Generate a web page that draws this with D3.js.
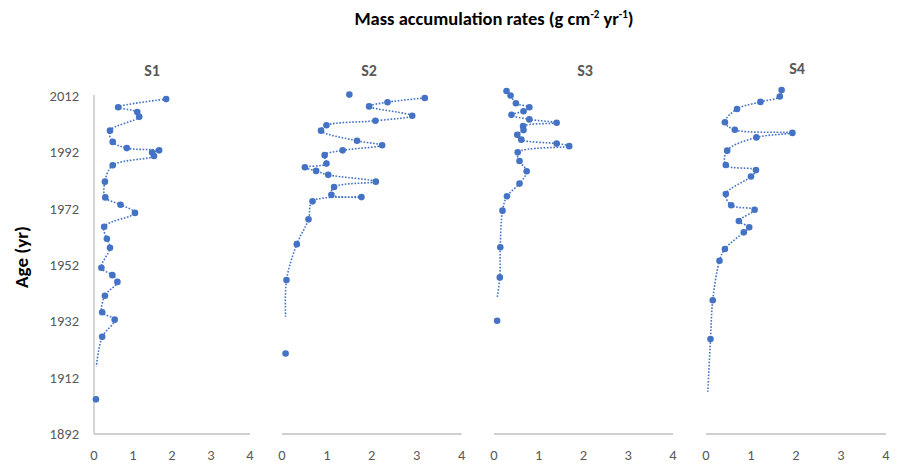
<!DOCTYPE html>
<html><head><meta charset="utf-8">
<script src="https://cdn.jsdelivr.net/npm/d3@7"></script>
<style>
body{margin:0;background:#fff;}
svg{display:block;font-family:Carlito,Lato,"Open Sans",sans-serif;}
</style></head>
<body>
<svg id="chart" width="900" height="464"></svg>
<script>
// ---- data ----
const panelNames = ["S1", "S2", "S3", "S4"];
const yTicks = [1892, 1912, 1932, 1952, 1972, 1992, 2012];
const xTicks = [0, 1, 2, 3, 4];

// markers (year, rate)
const s1Year = [2010.9,2008.0,2006.3,2004.6,1999.7,1995.7,1993.5,1992.7,1991.9,1990.7,1987.4,1981.6,1976.0,1973.4,1970.5,1965.6,1961.3,1958.1,1951.0,1948.4,1946.0,1941.1,1935.2,1932.6,1926.5,1904.3];
const s1Rate = [1.85,0.62,1.11,1.16,0.41,0.48,0.84,1.67,1.49,1.54,0.48,0.28,0.29,0.68,1.05,0.26,0.33,0.41,0.19,0.47,0.60,0.28,0.21,0.53,0.21,0.05];
const s2Year = [2012.5,2011.3,2009.8,2008.3,2005.0,2003.2,2001.6,1999.7,1996.1,1994.5,1992.7,1991.0,1988.0,1986.7,1985.4,1984.0,1981.6,1979.7,1976.9,1976.1,1974.6,1968.2,1959.4,1946.7,1920.6];
const s2Rate = [1.50,3.18,2.35,1.94,2.90,2.08,0.99,0.87,1.67,2.23,1.35,0.95,0.99,0.51,0.76,1.03,2.09,1.16,1.10,1.77,0.68,0.59,0.33,0.10,0.08];
const s3Year = [2013.8,2012.2,2009.4,2008.0,2006.6,2005.3,2003.7,2002.5,2001.3,1999.9,1998.2,1996.5,1995.1,1994.2,1992.0,1988.9,1985.3,1980.9,1976.4,1971.3,1958.3,1947.6,1932.2];
const s3Rate = [0.28,0.37,0.49,0.79,0.66,0.39,0.79,1.40,0.65,0.66,0.52,0.61,1.40,1.68,0.53,0.57,0.73,0.57,0.29,0.19,0.14,0.13,0.07];
const s4Year = [2014.1,2011.8,2009.9,2007.4,2002.7,2000.0,1998.9,1997.3,1992.6,1987.5,1985.7,1983.4,1977.2,1973.2,1971.6,1967.6,1965.4,1963.6,1957.7,1953.5,1939.5,1925.7];
const s4Rate = [1.68,1.64,1.21,0.69,0.42,0.64,1.92,1.12,0.47,0.44,1.11,1.00,0.44,0.56,1.08,0.73,0.96,0.84,0.42,0.30,0.15,0.10];

// dotted trend lines (year, rate)
const s1LineYear = [2010.9,2008.0,2006.3,2004.6,1999.7,1995.7,1993.5,1992.7,1991.9,1990.7,1987.4,1981.6,1976.0,1973.4,1970.5,1965.6,1961.3,1958.1,1951.0,1948.4,1946.0,1941.1,1935.2,1932.6,1926.5,1915.9];
const s1LineRate = [1.85,0.62,1.11,1.16,0.41,0.48,0.84,1.67,1.49,1.54,0.48,0.28,0.29,0.68,1.05,0.26,0.33,0.41,0.19,0.47,0.60,0.28,0.21,0.53,0.21,0.06];
const s2LineYear = [2011.3,2009.8,2008.3,2005.0,2003.2,2001.6,1999.7,1996.1,1994.5,1992.7,1991.0,1988.0,1986.7,1985.4,1984.0,1981.6,1979.7,1976.9,1976.1,1974.6,1968.2,1959.4,1946.7,1933.6];
const s2LineRate = [3.18,2.35,1.94,2.90,2.08,0.99,0.87,1.67,2.23,1.35,0.95,0.99,0.51,0.76,1.03,2.09,1.16,1.10,1.77,0.68,0.59,0.33,0.10,0.08];
const s3LineYear = [2013.8,2012.2,2009.4,2008.0,2006.6,2005.3,2003.7,2002.5,2001.3,1999.9,1998.2,1996.5,1995.1,1994.2,1992.0,1988.9,1985.3,1980.9,1976.4,1971.3,1958.3,1947.6,1940.2];
const s3LineRate = [0.28,0.37,0.49,0.79,0.66,0.39,0.79,1.40,0.65,0.66,0.52,0.61,1.40,1.68,0.53,0.57,0.73,0.57,0.29,0.19,0.14,0.13,0.07];
const s4LineYear = [2014.1,2011.8,2009.9,2007.4,2002.7,2000.0,1998.9,1997.3,1992.6,1987.5,1985.7,1983.4,1977.2,1973.2,1971.6,1967.6,1965.4,1963.6,1957.7,1953.5,1939.5,1925.7,1907.0];
const s4LineRate = [1.68,1.64,1.21,0.69,0.42,0.64,1.92,1.12,0.47,0.44,1.11,1.00,0.44,0.56,1.08,0.73,0.96,0.84,0.42,0.30,0.15,0.10,0.04];

// ---- layout ----
const series = [
  {year:s1Year, rate:s1Rate, ly:s1LineYear, lr:s1LineRate},
  {year:s2Year, rate:s2Rate, ly:s2LineYear, lr:s2LineRate},
  {year:s3Year, rate:s3Rate, ly:s3LineYear, lr:s3LineRate},
  {year:s4Year, rate:s4Rate, ly:s4LineYear, lr:s4LineRate}
];
const panelX = [[94,250],[282,461.6],[494,673],[706,886]];
const titleX = [152,369,585,797];
const blue = "#4472C4", grid = "#BFBFBF", txt = "#595959";

const svg = d3.select("#chart");
const y = d3.scaleLinear().domain([1892, 2012]).range([434, 96]);

// title
const t = svg.append("text").attr("x", 494).attr("y", 25).attr("text-anchor","middle")
  .attr("font-size", 18.5).attr("font-weight","bold").attr("fill","#000");
t.append("tspan").text("Mass accumulation rates (g cm");
t.append("tspan").attr("font-size",11).attr("dy",-7).text("-2");
t.append("tspan").attr("dy",7).text(" yr");
t.append("tspan").attr("font-size",11).attr("dy",-7).text("-1");
t.append("tspan").attr("dy",7).text(")");

// y axis title
svg.append("text").attr("transform","translate(28,257) rotate(-90)")
  .attr("text-anchor","middle").attr("font-size",19).attr("font-weight","bold")
  .attr("fill","#000").text("Age (yr)");

// y tick labels
svg.append("g").selectAll("text").data(yTicks).join("text")
  .attr("x", 79).attr("y", d => y(d)).attr("dy","0.35em").attr("text-anchor","end")
  .attr("font-size",14.5).attr("fill",txt).text(d => d);

// panel 1 vertical axis line
svg.append("line").attr("x1",94).attr("x2",94).attr("y1",y(2012)-1).attr("y2",y(1892))
  .attr("stroke",grid).attr("stroke-width",1.3);

series.forEach((s, i) => {
  const x = d3.scaleLinear().domain([0,4]).range(panelX[i]);
  const g = svg.append("g");
  // x axis line
  g.append("line").attr("x1", x(0)).attr("x2", x(4)).attr("y1", y(1892)).attr("y2", y(1892))
    .attr("stroke", grid).attr("stroke-width", 1.3);
  g.selectAll("text.tick").data(xTicks).join("text").attr("class","tick")
    .attr("x", d => x(d)).attr("y", 455).attr("dy","0.35em").attr("text-anchor","middle")
    .attr("font-size",14.5).attr("fill",txt).text(d => d);
  // panel title
  g.append("text").attr("x", titleX[i]).attr("y", i===3 ? 68 : 70).attr("dy","0.35em")
    .attr("text-anchor","middle").attr("font-size",16).attr("font-weight","bold")
    .attr("fill",txt).text(panelNames[i]);
  // line
  const lineData = s.ly.map((yr, k) => [s.lr[k], yr]);
  const line = d3.line().x(d => x(d[0])).y(d => y(d[1])).curve(d3.curveCatmullRom.alpha(0.5));
  g.append("path").attr("d", line(lineData)).attr("fill","none").attr("stroke", blue)
    .attr("stroke-width",1.6).attr("stroke-dasharray","1.6 1.6");
  // markers
  const pts = s.year.map((yr, k) => [s.rate[k], yr]);
  g.selectAll("circle").data(pts).join("circle")
    .attr("cx", d => x(d[0])).attr("cy", d => y(d[1])).attr("r", 3.3).attr("fill", blue);
});
</script>
</body></html>
